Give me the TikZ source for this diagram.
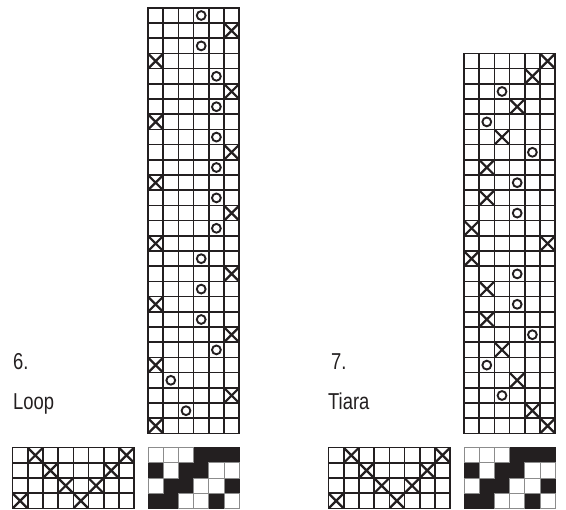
\documentclass[tikz,border=0pt]{standalone}
\usepackage{fontspec}
\setmainfont{Liberation Sans}
\usepackage{xcolor}
\definecolor{inkblack}{RGB}{35,31,32}
\definecolor{cellgray}{RGB}{140,140,140}

\begin{document}
\begin{tikzpicture}[
    x=1pt, y=-1pt,
    gridline/.style={draw=inkblack, line width=1.6pt, line cap=rect},
    xmark/.style={draw=inkblack, line width=2.2pt},
    omark/.style={draw=inkblack, line width=1.9pt},
    titletext/.style={anchor=base west, inner sep=0pt, text=inkblack, xscale=0.8, font=\fontsize{23}{27}\selectfont},
    blackcell/.style={fill=inkblack, draw=inkblack, line width=0.5pt},
    whitecell/.style={fill=white, draw=cellgray, line width=0.9pt},
    cellunit/.style={x=15.2pt, y=-15.2pt}
]
    \useasboundingbox (0,0) rectangle (566,510);

    % labels
    \node[titletext] (num6) at (13,370) {6.};
    \node[titletext] (loop) at (13,410) {Loop};
    \node[titletext] (num7) at (331,370) {7.};
    \node[titletext] (tiara) at (328,410) {Tiara};

    % loop chart
    \begin{scope}[shift={(148,7.9)}, cellunit]
        \foreach \i in {0,...,6} \draw[gridline] (\i,0) -- (\i,28);
        \foreach \j in {0,...,28} \draw[gridline] (0,\j) -- (6,\j);
        \foreach \c/\r in {6/2,1/4,6/6,1/8,6/10,1/12,6/14,1/16,6/18,1/20,6/22,1/24,6/26,1/28}
            \draw[xmark] (\c-0.97,\r-0.97) -- (\c-0.03,\r-0.03) (\c-0.97,\r-0.03) -- (\c-0.03,\r-0.97);
        \foreach \c/\r in {4/1,4/3,5/5,5/7,5/9,5/11,5/13,5/15,4/17,4/19,4/21,5/23,2/25,3/27}
            \draw[omark] (\c-0.5,\r-0.5) circle[radius=4.4pt];
    \end{scope}

    % tiara chart
    \begin{scope}[shift={(464,53.5)}, cellunit]
        \foreach \i in {0,...,6} \draw[gridline] (\i,0) -- (\i,25);
        \foreach \j in {0,...,25} \draw[gridline] (0,\j) -- (6,\j);
        \foreach \c/\r in {6/1,5/2,4/4,3/6,2/8,2/10,1/12,6/13,1/14,2/16,2/18,3/20,4/22,5/24,6/25}
            \draw[xmark] (\c-0.97,\r-0.97) -- (\c-0.03,\r-0.03) (\c-0.97,\r-0.03) -- (\c-0.03,\r-0.97);
        \foreach \c/\r in {3/3,2/5,5/7,4/9,4/11,4/15,4/17,5/19,2/21,3/23}
            \draw[omark] (\c-0.5,\r-0.5) circle[radius=4.4pt];
    \end{scope}

    % small charts
    \foreach \sx/\bx in {12.5/148, 328.5/464} {
        \begin{scope}[shift={(\sx,447.7)}, cellunit]
            \foreach \i in {0,...,8} \draw[gridline] (\i,0) -- (\i,4);
            \foreach \j in {0,...,4} \draw[gridline] (0,\j) -- (8,\j);
            \foreach \c/\r in {2/1,8/1,3/2,7/2,4/3,6/3,1/4,5/4}
                \draw[xmark] (\c-0.97,\r-0.97) -- (\c-0.03,\r-0.03) (\c-0.97,\r-0.03) -- (\c-0.03,\r-0.97);
        \end{scope}
        \begin{scope}[shift={(\bx,447.7)}, cellunit]
            \foreach \c/\r in {4/1,5/1,6/1,1/2,3/2,4/2,2/3,3/3,6/3,1/4,2/4,5/4}
                \draw[blackcell] (\c-1,\r-1) rectangle (\c,\r);
            \foreach \c/\r in {1/1,2/1,3/1,2/2,5/2,6/2,1/3,4/3,5/3,3/4,4/4,6/4}
                \draw[whitecell] (\c-1,\r-1) rectangle (\c,\r);
        \end{scope}
    }
\end{tikzpicture}
\end{document}
